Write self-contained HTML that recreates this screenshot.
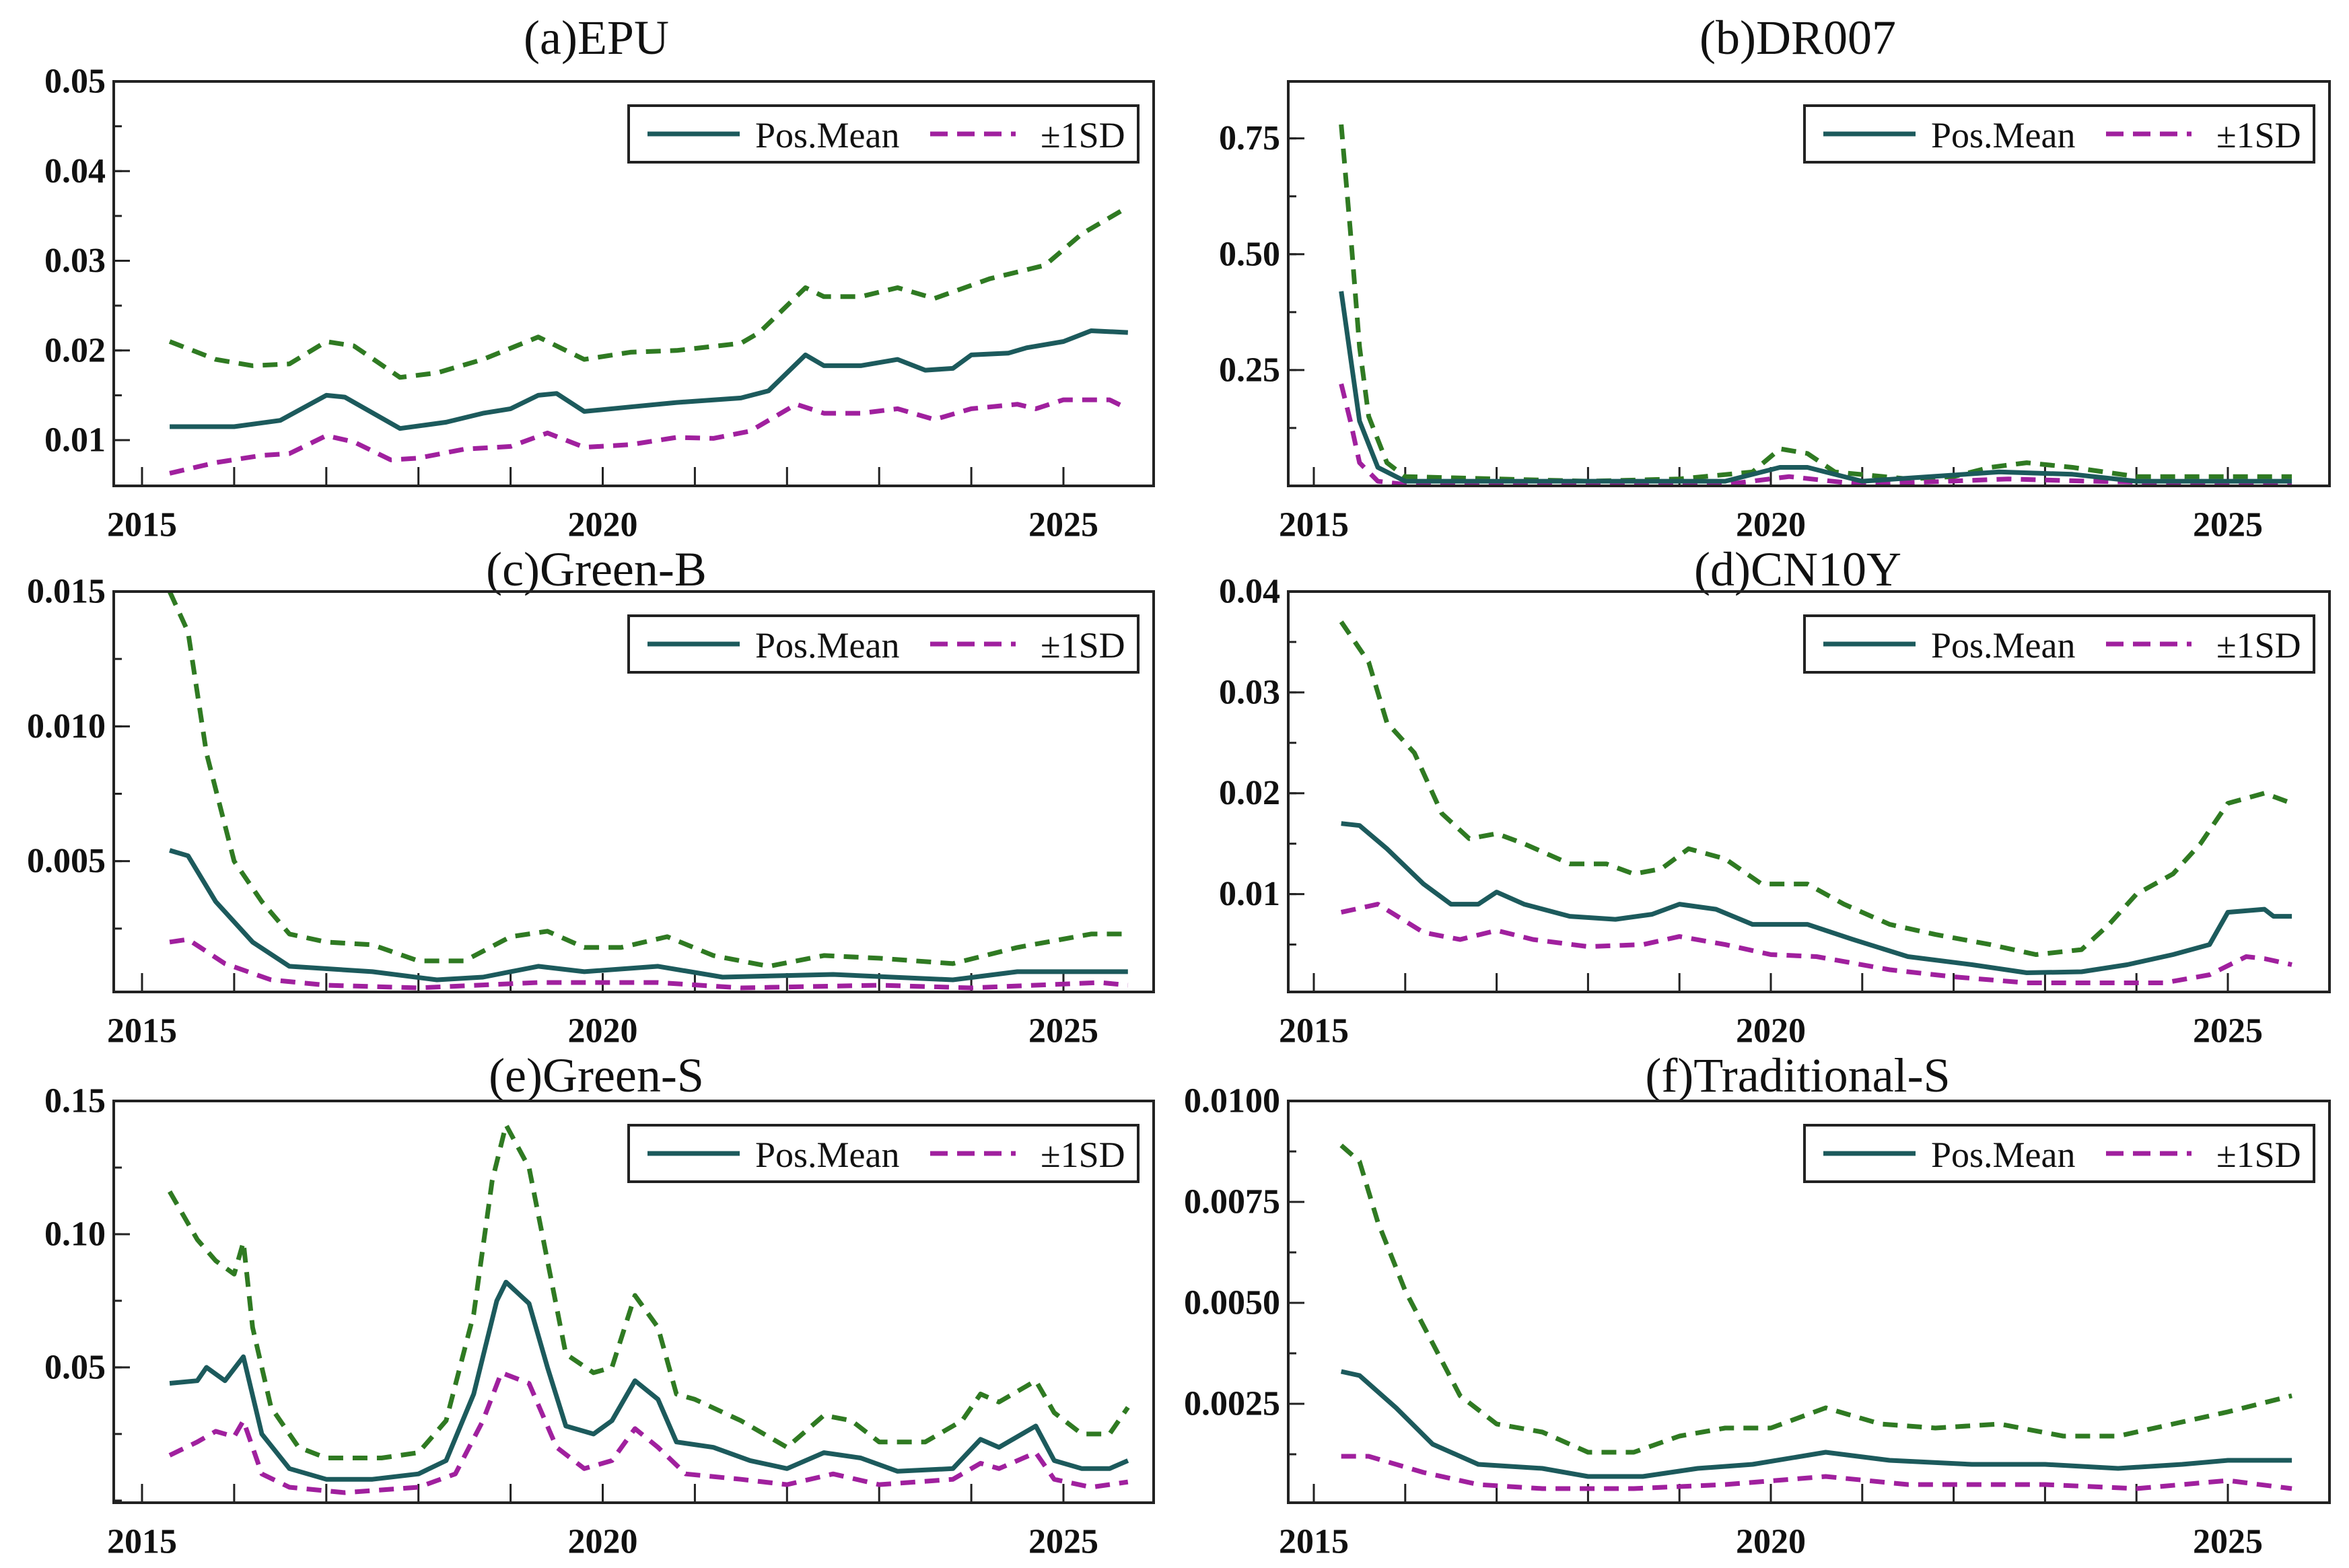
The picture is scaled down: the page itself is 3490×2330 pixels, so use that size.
<!DOCTYPE html>
<html><head><meta charset="utf-8"><style>
html,body{margin:0;padding:0;background:#fff;}
svg{display:block;}
text{font-family:"Liberation Serif",serif;fill:#111;}
</style></head><body>
<svg id="chart" width="3490" height="2330" viewBox="0 0 3490 2330" xmlns="http://www.w3.org/2000/svg"></svg>
<script>
// ---- data ----
const aUpX=[2015.3,2015.8,2016.2,2016.6,2017.0,2017.3,2017.8,2018.2,2018.7,2019.3,2019.8,2020.3,2020.8,2021.5,2021.7,2022.2,2022.4,2022.8,2023.2,2023.6,2024.2,2024.8,2025.2,2025.7];
const aUpY=[0.021,0.019,0.0183,0.0185,0.021,0.0205,0.017,0.0175,0.019,0.0215,0.019,0.0198,0.020,0.0208,0.022,0.027,0.026,0.026,0.027,0.0258,0.028,0.0295,0.033,0.036];
const aMnX=[2015.3,2016.0,2016.5,2017.0,2017.2,2017.8,2018.3,2018.7,2019.0,2019.3,2019.5,2019.8,2020.3,2020.8,2021.5,2021.8,2022.2,2022.4,2022.8,2023.2,2023.5,2023.8,2024.0,2024.4,2024.6,2025.0,2025.3,2025.7];
const aMnY=[0.0115,0.0115,0.0122,0.015,0.0148,0.0113,0.012,0.013,0.0135,0.015,0.0152,0.0132,0.0137,0.0142,0.0147,0.0155,0.0195,0.0183,0.0183,0.019,0.0178,0.018,0.0195,0.0197,0.0203,0.021,0.0222,0.022];
const aLoX=[2015.3,2015.8,2016.3,2016.6,2017.0,2017.3,2017.7,2018.0,2018.5,2019.0,2019.4,2019.8,2020.3,2020.8,2021.2,2021.6,2022.1,2022.4,2022.8,2023.2,2023.6,2024.0,2024.5,2024.7,2025.0,2025.5,2025.7];
const aLoY=[0.0063,0.0075,0.0083,0.0085,0.0105,0.0098,0.0078,0.008,0.009,0.0093,0.0108,0.0092,0.0095,0.0103,0.0102,0.011,0.014,0.013,0.013,0.0135,0.0123,0.0135,0.014,0.0135,0.0145,0.0145,0.0135];

const bUpX=[2015.3,2015.4,2015.5,2015.6,2015.8,2016.0,2017,2018,2019,2019.8,2020.1,2020.4,2020.7,2021.5,2022,2022.4,2022.8,2023.3,2024,2025,2025.7];
const bUpY=[0.78,0.55,0.3,0.15,0.05,0.02,0.015,0.01,0.015,0.03,0.08,0.07,0.03,0.015,0.02,0.04,0.05,0.04,0.02,0.02,0.02];
const bMnX=[2015.3,2015.4,2015.5,2015.7,2016,2019.5,2020.1,2020.4,2021,2022.5,2023.3,2024,2025.7];
const bMnY=[0.42,0.28,0.14,0.04,0.01,0.01,0.04,0.04,0.01,0.03,0.025,0.01,0.01];
const bLoX=[2015.3,2015.4,2015.5,2015.7,2016,2019.5,2020.2,2021,2022.6,2023.5,2025.7];
const bLoY=[0.22,0.14,0.05,0.01,0.003,0.003,0.02,0.003,0.015,0.01,0.002];

const cUpX=[2015.3,2015.5,2015.7,2016.0,2016.3,2016.6,2017.0,2017.5,2018.0,2018.5,2019.0,2019.4,2019.8,2020.2,2020.7,2021.2,2021.8,2022.4,2023.0,2023.8,2024.5,2025.3,2025.7];
const cUpY=[0.015,0.0135,0.009,0.005,0.0035,0.0023,0.002,0.0019,0.0013,0.0013,0.0022,0.0024,0.0018,0.0018,0.0022,0.0015,0.0011,0.0015,0.0014,0.0012,0.0018,0.0023,0.0023];
const cMnX=[2015.3,2015.5,2015.8,2016.2,2016.6,2017.5,2018.2,2018.7,2019.3,2019.8,2020.6,2021.3,2022.5,2023.8,2024.5,2025.7];
const cMnY=[0.0054,0.0052,0.0035,0.002,0.0011,0.0009,0.0006,0.0007,0.0011,0.0009,0.0011,0.0007,0.0008,0.0006,0.0009,0.0009];
const cLoX=[2015.3,2015.5,2015.9,2016.4,2017,2018,2019.3,2020.6,2021.5,2023,2024,2025.4,2025.7];
const cLoY=[0.002,0.0021,0.0012,0.0006,0.0004,0.0003,0.0005,0.0005,0.0003,0.0004,0.0003,0.0005,0.0004];

const dUpX=[2015.3,2015.6,2015.8,2016.1,2016.4,2016.7,2017.0,2017.3,2017.8,2018.2,2018.5,2018.8,2019.1,2019.5,2019.9,2020.4,2020.8,2021.3,2021.8,2022.4,2022.9,2023.4,2023.7,2024.0,2024.4,2024.7,2025.0,2025.4,2025.7];
const dUpY=[0.037,0.033,0.027,0.024,0.018,0.0155,0.016,0.015,0.013,0.013,0.012,0.0125,0.0145,0.0135,0.011,0.011,0.009,0.007,0.006,0.005,0.004,0.0045,0.007,0.010,0.012,0.015,0.019,0.020,0.019];
const dMnX=[2015.3,2015.5,2015.8,2016.2,2016.5,2016.8,2017.0,2017.3,2017.8,2018.3,2018.7,2019.0,2019.4,2019.8,2020.4,2020.9,2021.5,2022.2,2022.8,2023.4,2023.9,2024.4,2024.8,2025.0,2025.4,2025.5,2025.7];
const dMnY=[0.017,0.0168,0.0145,0.011,0.009,0.009,0.0102,0.009,0.0078,0.0075,0.008,0.009,0.0085,0.007,0.007,0.0055,0.0038,0.003,0.0022,0.0023,0.003,0.004,0.005,0.0082,0.0085,0.0078,0.0078];
const dLoX=[2015.3,2015.7,2016.2,2016.6,2017,2017.4,2018,2018.6,2019,2019.5,2020,2020.5,2021.3,2022,2022.8,2023.5,2024.3,2024.8,2025.2,2025.4,2025.7];
const dLoY=[0.0082,0.009,0.0062,0.0055,0.0064,0.0055,0.0048,0.005,0.0058,0.005,0.004,0.0038,0.0025,0.0018,0.0012,0.0012,0.0012,0.002,0.0038,0.0036,0.003];

const eUpX=[2015.3,2015.6,2015.8,2016.0,2016.1,2016.2,2016.4,2016.7,2017.0,2017.6,2018.0,2018.3,2018.6,2018.8,2018.95,2019.2,2019.4,2019.6,2019.9,2020.1,2020.35,2020.6,2020.8,2021.0,2021.5,2022.0,2022.4,2022.7,2023.0,2023.5,2023.9,2024.1,2024.3,2024.7,2024.9,2025.2,2025.5,2025.7];
const eUpY=[0.116,0.098,0.09,0.085,0.097,0.065,0.035,0.02,0.016,0.016,0.018,0.03,0.07,0.12,0.141,0.125,0.09,0.055,0.048,0.05,0.077,0.065,0.04,0.038,0.03,0.02,0.032,0.03,0.022,0.022,0.03,0.04,0.037,0.045,0.033,0.025,0.025,0.035];
const eMnX=[2015.3,2015.6,2015.7,2015.9,2016.1,2016.3,2016.6,2017.0,2017.5,2018.0,2018.3,2018.6,2018.85,2018.95,2019.2,2019.4,2019.6,2019.9,2020.1,2020.35,2020.6,2020.8,2021.2,2021.6,2022.0,2022.4,2022.8,2023.2,2023.8,2024.1,2024.3,2024.7,2024.9,2025.2,2025.5,2025.7];
const eMnY=[0.044,0.045,0.05,0.045,0.054,0.025,0.012,0.008,0.008,0.01,0.015,0.04,0.075,0.082,0.074,0.05,0.028,0.025,0.03,0.045,0.038,0.022,0.02,0.015,0.012,0.018,0.016,0.011,0.012,0.023,0.02,0.028,0.015,0.012,0.012,0.015];
const eLoX=[2015.3,2015.6,2015.8,2016.0,2016.1,2016.3,2016.6,2017.2,2018.0,2018.4,2018.7,2018.9,2019.2,2019.5,2019.8,2020.1,2020.35,2020.6,2020.9,2021.5,2022.0,2022.5,2023.0,2023.8,2024.1,2024.3,2024.7,2024.9,2025.3,2025.7];
const eLoY=[0.017,0.022,0.026,0.024,0.03,0.01,0.005,0.003,0.005,0.01,0.03,0.048,0.044,0.02,0.012,0.015,0.027,0.02,0.01,0.008,0.006,0.01,0.006,0.008,0.014,0.012,0.018,0.008,0.005,0.007];

const fUpX=[2015.3,2015.5,2015.7,2016.0,2016.3,2016.6,2017.0,2017.5,2018.0,2018.5,2019.0,2019.5,2020.0,2020.6,2021.2,2021.8,2022.5,2023.2,2023.8,2024.4,2025.0,2025.7];
const fUpY=[0.0089,0.0085,0.007,0.0053,0.004,0.0027,0.002,0.0018,0.0013,0.0013,0.0017,0.0019,0.0019,0.0024,0.002,0.0019,0.002,0.0017,0.0017,0.002,0.0023,0.0027];
const fMnX=[2015.3,2015.5,2015.9,2016.3,2016.8,2017.5,2018.0,2018.6,2019.2,2019.8,2020.6,2021.3,2022.2,2023.0,2023.8,2024.5,2025.0,2025.7];
const fMnY=[0.0033,0.0032,0.0024,0.0015,0.001,0.0009,0.0007,0.0007,0.0009,0.001,0.0013,0.0011,0.001,0.001,0.0009,0.001,0.0011,0.0011];
const fLoX=[2015.3,2015.6,2016.2,2016.8,2017.5,2018.5,2019.5,2020.6,2021.5,2023,2024,2025,2025.7];
const fLoY=[0.0012,0.0012,0.0008,0.0005,0.0004,0.0004,0.0005,0.0007,0.0005,0.0005,0.0004,0.0006,0.0004];

const aTicks=[0.01,0.02,0.03,0.04,0.05], aTickLabels=["0.01","0.02","0.03","0.04","0.05"];
const bTicks=[0.25,0.5,0.75], bTickLabels=["0.25","0.50","0.75"];
const cTicks=[0.005,0.010,0.015], cTickLabels=["0.005","0.010","0.015"];
const dTicks=[0.01,0.02,0.03,0.04], dTickLabels=["0.01","0.02","0.03","0.04"];
const eTicks=[0.05,0.10,0.15], eTickLabels=["0.05","0.10","0.15"];
const fTicks=[0.0025,0.005,0.0075,0.01], fTickLabels=["0.0025","0.0050","0.0075","0.0100"];
const xTickYears=[2015,2016,2017,2018,2019,2020,2021,2022,2023,2024,2025];
const xLabelYears=[2015,2020,2025];

const NS="http://www.w3.org/2000/svg";
const svg=document.getElementById('chart');
function mk(tag,attrs,parent){const e=document.createElementNS(NS,tag);for(const k in attrs)e.setAttribute(k,attrs[k]);(parent||svg).appendChild(e);return e;}

const panels=[
 {id:'a',title:'(a)EPU',L:169,R:1714,T:121,B:722,x15:211,x25:1580,ymin:0.0049,ymax:0.05,minor:0.005,ticks:aTicks,labels:aTickLabels,up:[aUpX,aUpY],mn:[aMnX,aMnY],lo:[aLoX,aLoY],tx:886,ty:56},
 {id:'b',title:'(b)DR007',L:1914,R:3461,T:121,B:722,x15:1952,x25:3310,ymin:0.0,ymax:0.873,minor:0.125,ticks:bTicks,labels:bTickLabels,up:[bUpX,bUpY],mn:[bMnX,bMnY],lo:[bLoX,bLoY],tx:2671,ty:56},
 {id:'c',title:'(c)Green-B',L:169,R:1714,T:879,B:1474,x15:211,x25:1580,ymin:0.00015,ymax:0.015,minor:0.0025,ticks:cTicks,labels:cTickLabels,up:[cUpX,cUpY],mn:[cMnX,cMnY],lo:[cLoX,cLoY],tx:886,ty:846},
 {id:'d',title:'(d)CN10Y',L:1914,R:3461,T:879,B:1474,x15:1952,x25:3310,ymin:0.0003,ymax:0.04,minor:0.005,ticks:dTicks,labels:dTickLabels,up:[dUpX,dUpY],mn:[dMnX,dMnY],lo:[dLoX,dLoY],tx:2671,ty:846},
 {id:'e',title:'(e)Green-S',L:169,R:1714,T:1636,B:2233,x15:211,x25:1580,ymin:-0.0008,ymax:0.15,minor:0.025,ticks:eTicks,labels:eTickLabels,up:[eUpX,eUpY],mn:[eMnX,eMnY],lo:[eLoX,eLoY],tx:886,ty:1598},
 {id:'f',title:'(f)Traditional-S',L:1914,R:3461,T:1636,B:2233,x15:1952,x25:3310,ymin:0.00005,ymax:0.01,minor:0.00125,ticks:fTicks,labels:fTickLabels,up:[fUpX,fUpY],mn:[fMnX,fMnY],lo:[fLoX,fLoY],tx:2671,ty:1598}
];

panels.forEach(p=>{
  const g=mk('g',{});
  
  
  const X=v=>p.x15+(v-2015)*(p.x25-p.x15)/10;
  const Y=v=>p.B-(v-p.ymin)*(p.B-p.T)/(p.ymax-p.ymin);
  const t=mk('text',{x:p.tx,y:p.ty,'text-anchor':'middle','dominant-baseline':'central','font-size':72},g);
  t.textContent=p.title;
  
  
  const yt=mk('g',{},g);
  
  
  for(let v=Math.ceil(p.ymin/p.minor-1e-9)*p.minor; v<=p.ymax+1e-12; v+=p.minor){
    const yy=Y(v); if(yy<p.T-1||yy>p.B-3) continue;
    mk('line',{x1:p.L,x2:p.L+12,y1:yy,y2:yy,stroke:'#222','stroke-width':3},yt);
  }
  p.ticks.forEach((v,i)=>{
    const yy=Y(v);
    mk('line',{x1:p.L,x2:p.L+24,y1:yy,y2:yy,stroke:'#222','stroke-width':3},yt);
    const l=mk('text',{x:p.L-12,y:yy,'text-anchor':'end','dominant-baseline':'central','font-size':52,'font-weight':'bold'},yt);
    l.textContent=p.labels[i];
    
    
  });
  const xt=mk('g',{},g);
  
  
  xTickYears.forEach(yr=>{const xx=X(yr);mk('line',{x1:xx,x2:xx,y1:p.B,y2:p.B-28,stroke:'#222','stroke-width':3},xt);});
  xLabelYears.forEach(yr=>{
    const l=mk('text',{x:X(yr),y:p.B+58,'text-anchor':'middle','dominant-baseline':'central','font-size':52,'font-weight':'bold'},xt);
    l.textContent=String(yr);
    
    
  });
  const series=[['upper-band',p.up,'#2f7a22','22,14'],['lower-band',p.lo,'#a0209e','22,14'],['pos-mean',p.mn,'#1c5a5c',null]];
  series.forEach(s=>{
    const [xs,ys]=s[1];
    const d=xs.map((xv,i)=>(i?'L':'M')+X(xv).toFixed(1)+','+Y(ys[i]).toFixed(1)).join(' ');
    const a={d:d,fill:'none',stroke:s[2],'stroke-width':7,'stroke-linejoin':'round'};
    if(s[3])a['stroke-dasharray']=s[3];
    const path=mk('path',a,g);
    
    
  });
  mk('rect',{x:p.L,y:p.T,width:p.R-p.L,height:p.B-p.T,fill:'none',stroke:'#222','stroke-width':4},g);
  const lx=p.R-780, ly=p.T+36;
  const lg=mk('g',{},g);
  
  
  mk('rect',{x:lx,y:ly,width:757,height:84,fill:'#fff',stroke:'#222','stroke-width':4},lg);
  mk('line',{x1:lx+28,x2:lx+165,y1:ly+42,y2:ly+42,stroke:'#1c5a5c','stroke-width':7},lg);
  const t1=mk('text',{x:lx+188,y:ly+44,'dominant-baseline':'central','font-size':54},lg);
  t1.textContent='Pos.Mean';
  
  
  mk('line',{x1:lx+448,x2:lx+575,y1:ly+42,y2:ly+42,stroke:'#a0209e','stroke-width':7,'stroke-dasharray':'26,14'},lg);
  const t2=mk('text',{x:lx+612,y:ly+44,'dominant-baseline':'central','font-size':54},lg);
  t2.textContent='±1SD';
  
  
});
</script>
</body></html>
